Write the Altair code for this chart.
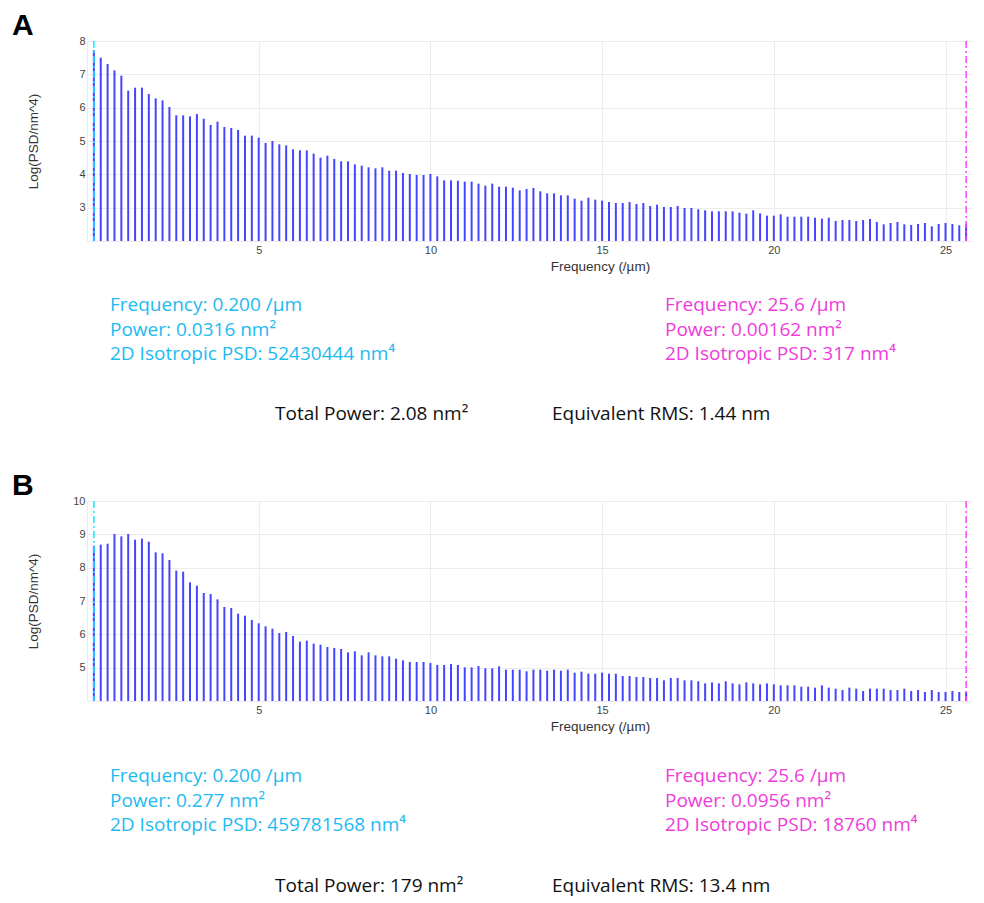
import altair as alt
import pandas as pd

# Frequencies (/µm): 0.2 ... 25.6 in steps of 0.2
freq = [round(0.2 * i, 1) for i in range(1, 129)]

log_psd_a = [
    7.72, 7.50, 7.31, 7.12, 6.96, 6.51, 6.60, 6.60, 6.41, 6.28, 6.22, 6.02,
    5.77, 5.77, 5.74, 5.81, 5.67, 5.48, 5.58, 5.42, 5.39, 5.33, 5.16, 5.16,
    5.10, 4.94, 5.00, 4.90, 4.87, 4.75, 4.72, 4.72, 4.62, 4.50, 4.56, 4.46,
    4.39, 4.39, 4.30, 4.26, 4.21, 4.18, 4.21, 4.11, 4.11, 4.04, 4.01, 3.98,
    3.98, 4.01, 3.94, 3.82, 3.82, 3.81, 3.78, 3.78, 3.72, 3.66, 3.72, 3.63,
    3.63, 3.60, 3.52, 3.56, 3.59, 3.49, 3.43, 3.43, 3.37, 3.37, 3.27, 3.21,
    3.30, 3.24, 3.21, 3.17, 3.14, 3.14, 3.17, 3.11, 3.14, 3.05, 3.09,
    3.02, 3.02, 3.05, 2.99, 2.99, 2.95, 2.92, 2.89, 2.89, 2.89, 2.89, 2.85,
    2.82, 2.92, 2.83, 2.76, 2.76, 2.80, 2.73, 2.73, 2.73, 2.73, 2.70, 2.67,
    2.70, 2.60, 2.63, 2.63, 2.60, 2.63, 2.66, 2.57, 2.50, 2.54, 2.57, 2.50,
    2.48, 2.51, 2.54, 2.44, 2.51, 2.54, 2.51, 2.47, 2.50,
]

log_psd_b = [
    8.66, 8.69, 8.72, 9.01, 8.94, 9.01, 8.84, 8.87, 8.78, 8.46, 8.43, 8.23,
    7.91, 7.88, 7.56, 7.46, 7.24, 7.21, 7.05, 6.82, 6.79, 6.62, 6.56, 6.43,
    6.33, 6.24, 6.17, 6.04, 6.07, 5.95, 5.78, 5.81, 5.72, 5.69, 5.62, 5.59,
    5.56, 5.46, 5.49, 5.37, 5.46, 5.37, 5.34, 5.34, 5.27, 5.22, 5.17, 5.17,
    5.17, 5.14, 5.08, 5.08, 5.11, 5.08, 5.01, 5.01, 5.05, 4.98, 4.98, 5.04,
    4.94, 4.94, 4.94, 4.89, 4.94, 4.94, 4.91, 4.94, 4.91, 4.94, 4.85, 4.88,
    4.82, 4.82, 4.85, 4.82, 4.82, 4.75, 4.75, 4.72, 4.72, 4.69, 4.69,
    4.62, 4.69, 4.69, 4.62, 4.62, 4.59, 4.53, 4.56, 4.53, 4.59, 4.53, 4.50,
    4.56, 4.53, 4.50, 4.53, 4.50, 4.47, 4.47, 4.47, 4.43, 4.43, 4.40, 4.47,
    4.40, 4.37, 4.33, 4.40, 4.37, 4.30, 4.37, 4.37, 4.37, 4.33, 4.33, 4.37,
    4.30, 4.33, 4.27, 4.33, 4.27, 4.27, 4.30, 4.27, 4.27,
]

cursor_freqs = [0.2, 25.6]

panel_labels = ["A", "B"]
y_domains = [(2, 8), (4, 10)]

left_texts = [
    ["Frequency: 0.200 /µm", "Power: 0.0316 nm²", "2D Isotropic PSD: 52430444 nm⁴"],
    ["Frequency: 0.200 /µm", "Power: 0.277 nm²", "2D Isotropic PSD: 459781568 nm⁴"],
]
right_texts = [
    ["Frequency: 25.6 /µm", "Power: 0.00162 nm²", "2D Isotropic PSD: 317 nm⁴"],
    ["Frequency: 25.6 /µm", "Power: 0.0956 nm²", "2D Isotropic PSD: 18760 nm⁴"],
]
total_texts = [
    ["Total Power: 2.08 nm²", "Equivalent RMS: 1.44 nm"],
    ["Total Power: 179 nm²", "Equivalent RMS: 13.4 nm"],
]

W = 886
H = 200
TXT_FONT = "Open Sans"
TXT_SIZE = 19
LINE_GAP = 24.5
CYAN_TXT = "#1DBAF0"
PINK_TXT = "#EE3CDA"


def text_mark(s, x, y, color, size=TXT_SIZE, font=TXT_FONT, weight="normal",
              baseline="middle"):
    return alt.Chart(pd.DataFrame({"t": [s]})).mark_text(
        align="left", baseline=baseline, font=font, fontSize=size,
        fontWeight=weight, color=color
    ).encode(text="t:N", x=alt.value(x), y=alt.value(y))


def panel(i, vals, text_y0, total_y, label_y):
    ymin, ymax = y_domains[i]
    df = pd.DataFrame({"f": freq, "v": vals, "base": [ymin] * len(freq)})
    xenc = alt.X(
        "f:Q",
        scale=alt.Scale(domain=[0, 25.8], nice=False, zero=False),
        axis=alt.Axis(
            values=[0, 5, 10, 15, 20, 25],
            labelExpr="datum.value == 0 ? '' : datum.label",
            title="Frequency (/µm)",
            titleX=513, titleY=25, titleBaseline="middle",
            titleFontWeight="normal", titleFontSize=13.5,
            titleFont="Liberation Sans", titleColor="#333",
            labelFont="Liberation Sans", labelFontSize=11,
            labelColor="#444", labelPadding=3,
            ticks=False, domain=False, grid=True, gridColor="#ececec",
        ),
    )
    yenc = alt.Y(
        "v:Q",
        scale=alt.Scale(domain=[ymin, ymax], nice=False, zero=False),
        axis=alt.Axis(
            values=list(range(ymin, ymax + 1)),
            labelExpr=f"datum.value == {ymin} ? '' : datum.label",
            title="Log(PSD/nm^4)",
            titleX=-54, titleY=H / 2, titleAngle=270, titleBaseline="middle",
            titleAlign="center",
            titleFontWeight="normal", titleFontSize=13.5,
            titleFont="Liberation Sans", titleColor="#333",
            labelFont="Liberation Sans", labelFontSize=11,
            labelColor="#444", labelPadding=2,
            ticks=False, domain=False, grid=True, gridColor="#ececec",
        ),
    )
    bars = alt.Chart(df).mark_rule(color="#4545FF", strokeWidth=2).encode(
        x=xenc, y=yenc, y2="base:Q"
    )
    cur_df = pd.DataFrame({"f": [cursor_freqs[0]]})
    cur_df2 = pd.DataFrame({"f": [cursor_freqs[1]]})
    cyan = alt.Chart(cur_df).mark_rule(
        color="#00F0FF", strokeWidth=1.5, strokeDash=[7, 3, 2, 3]
    ).encode(x="f:Q", y=alt.value(0), y2=alt.value(H))
    pink = alt.Chart(cur_df2).mark_rule(
        color="#FF40FF", strokeWidth=1.5, strokeDash=[7, 3, 2, 3]
    ).encode(x="f:Q", y=alt.value(0), y2=alt.value(H))

    layers = [bars, cyan, pink]
    layers.append(text_mark(panel_labels[i], -75, label_y, "#000", size=30,
                            font="Liberation Sans", weight="bold",
                            baseline="alphabetic"))
    for k, s in enumerate(left_texts[i]):
        layers.append(text_mark(s, 23, text_y0 + LINE_GAP * k, CYAN_TXT))
    for k, s in enumerate(right_texts[i]):
        layers.append(text_mark(s, 578, text_y0 + LINE_GAP * k, PINK_TXT))
    layers.append(text_mark(total_texts[i][0], 188, total_y, "#111"))
    layers.append(text_mark(total_texts[i][1], 465, total_y, "#111"))
    return alt.layer(*layers).properties(width=W, height=H)


pa = panel(0, log_psd_a, 264, 373, -6)
pb = panel(1, log_psd_b, 275, 385, -6)

chart = alt.vconcat(pa, pb, spacing=260, bounds="flush").properties(
    padding={"left": 4, "top": 3, "right": 0, "bottom": 4}
).configure_view(stroke=None)

chart.save("out.html", embed_options={"renderer": "svg", "actions": False})
